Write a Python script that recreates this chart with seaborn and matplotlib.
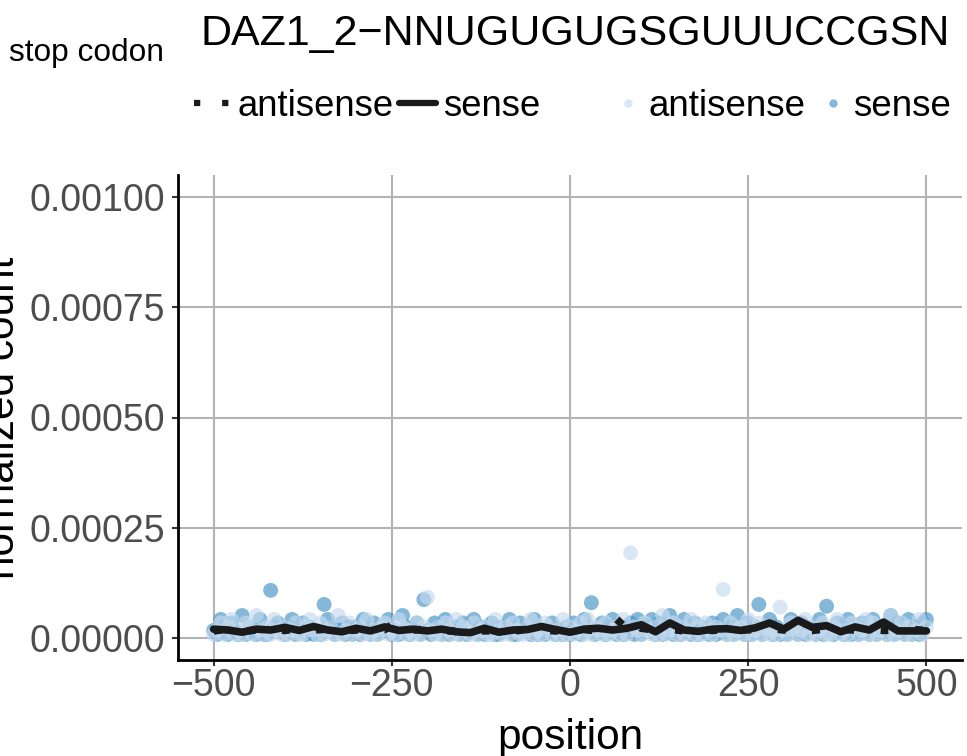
import pandas as pd
import seaborn as sns
import matplotlib.pyplot as plt
from matplotlib.lines import Line2D

# normalized counts, in units of 1e-6, every 5 nt from -500 to 500
positions = list(range(-500, 501, 5))
antisense_counts = [
    8, 17, 34, 8, 25, 42, 8, 17, 8, 34, 25, 8, 51, 17, 8, 25, 8, 42, 17, 8,
    25, 8, 17, 34, 8, 8, 25, 42, 17, 8, 34, 8, 17, 25, 8, 51, 8, 17, 34, 8,
    17, 25, 8, 42, 8, 17, 8, 25, 34, 8, 17, 8, 42, 25, 8, 17, 8, 34, 8, 25,
    92, 17, 8, 25, 8, 34, 17, 8, 42, 8, 25, 17, 8, 34, 8, 17, 25, 8, 8, 42,
    17, 8, 25, 8, 34, 17, 8, 8, 25, 42, 8, 17, 8, 34, 25, 8, 17, 8, 42, 8,
    25, 8, 17, 34, 8, 42, 8, 25, 17, 8, 34, 8, 17, 25, 8, 42, 8, 193, 25, 17,
    8, 34, 17, 8, 25, 8, 51, 8, 17, 34, 8, 25, 8, 17, 42, 8, 25, 8, 34, 17,
    8, 25, 17, 110, 8, 34, 8, 17, 25, 8, 42, 8, 17, 34, 8, 25, 8, 17, 8, 70,
    17, 8, 34, 25, 8, 17, 42, 8, 25, 8, 17, 34, 8, 8, 25, 42, 8, 17, 8, 34,
    25, 8, 17, 42, 8, 34, 8, 17, 25, 8, 51, 8, 17, 34, 8, 25, 8, 17, 42, 8,
    25]
sense_counts = [
    17, 8, 42, 25, 8, 34, 17, 8, 51, 8, 25, 17, 8, 42, 8, 8, 108, 25, 34, 17,
    8, 25, 42, 8, 17, 34, 8, 25, 8, 17, 8, 76, 42, 25, 8, 17, 34, 8, 25, 8,
    25, 8, 42, 17, 8, 34, 8, 25, 17, 42, 8, 17, 8, 51, 25, 8, 17, 34, 8, 87,
    17, 8, 34, 25, 8, 42, 8, 17, 25, 8, 34, 8, 17, 42, 8, 25, 8, 17, 34, 8,
    8, 25, 17, 42, 8, 8, 34, 17, 25, 8, 42, 8, 17, 8, 25, 34, 8, 17, 8, 25,
    8, 34, 17, 8, 42, 25, 80, 8, 17, 34, 8, 25, 42, 8, 17, 8, 25, 34, 8, 42,
    8, 17, 25, 42, 8, 34, 8, 17, 51, 8, 25, 8, 42, 17, 8, 34, 8, 25, 17, 8,
    34, 8, 17, 42, 8, 25, 8, 51, 17, 8, 34, 8, 25, 76, 8, 17, 42, 8, 25, 8,
    17, 8, 42, 25, 8, 34, 8, 17, 25, 8, 42, 8, 72, 17, 8, 34, 25, 8, 42, 8,
    25, 8, 34, 17, 8, 42, 8, 25, 17, 8, 51, 8, 34, 17, 8, 42, 8, 25, 8, 34,
    42]

# running averages, every 20 nt
line_positions = list(range(-500, 501, 20))
antisense_smooth = [16, 20, 15, 18, 20, 17, 22, 18, 20, 16, 18, 20, 19, 40, 18, 20, 17,
                    15, 18, 16, 17, 15, 20, 18, 16, 17, 19, 16, 20, 54, 22, 18, 20, 16,
                    19, 17, 20, 18, 19, 22, 18, 20, 17, 21, 19, 18, 20, 17, 18, 19, 17]
sense_smooth = [20, 18, 13, 20, 18, 24, 17, 26, 18, 14, 22, 16, 25, 17, 20, 16, 20,
                14, 12, 22, 13, 18, 19, 26, 19, 13, 20, 22, 18, 22, 30, 14, 34, 18,
                15, 20, 21, 17, 23, 34, 20, 40, 24, 28, 14, 25, 18, 36, 16, 16, 16]

strands = ['antisense', 'sense']
x_ticks = [-500, -250, 0, 250, 500]
x_ticklabels = ['\u2212500', '\u2212250', '0', '250', '500']
y_ticks = [0, 0.00025, 0.0005, 0.00075, 0.001]
y_ticklabels = ['0.00000', '0.00025', '0.00050', '0.00075', '0.00100']
point_colors = {'antisense': '#c6dbef', 'sense': '#4292c6'}

pts = pd.concat([
    pd.DataFrame({'position': positions, 'count': [v * 1e-6 for v in sense_counts], 'strand': 'sense'}),
    pd.DataFrame({'position': positions, 'count': [v * 1e-6 for v in antisense_counts], 'strand': 'antisense'}),
])
lines = pd.concat([
    pd.DataFrame({'position': line_positions, 'count': [v * 1e-6 for v in antisense_smooth], 'strand': 'antisense'}),
    pd.DataFrame({'position': line_positions, 'count': [v * 1e-6 for v in sense_smooth], 'strand': 'sense'}),
])

sns.set_style('white')
plt.rcParams['font.family'] = ['Liberation Sans', 'DejaVu Sans']
plt.rcParams['text.color'] = 'black'
plt.rcParams['axes.labelcolor'] = 'black'

fig = plt.figure(figsize=(9.67, 7.56), dpi=100)
ax = fig.add_axes([178 / 967, 96 / 756, 784 / 967, 485 / 756])

sns.scatterplot(data=pts, x='position', y='count', hue='strand', palette=point_colors,
                s=115, alpha=0.65, edgecolor='none', legend=False, ax=ax)
sns.lineplot(data=lines, x='position', y='count', style='strand', style_order=strands,
             dashes={'antisense': (1, 3.5), 'sense': ''}, color='#1a1a1a', linewidth=5.5,
             legend=False, ax=ax)

ax.set_xlim(-550, 550)
ax.set_ylim(-0.00005, 0.00105)
ax.set_xticks(x_ticks)
ax.set_xticklabels(x_ticklabels)
ax.set_yticks(y_ticks)
ax.set_yticklabels(y_ticklabels)
ax.grid(True, color='#b3b3b3', linewidth=1.5)
ax.set_axisbelow(True)
for side in ['top', 'right']:
    ax.spines[side].set_visible(False)
for side in ['left', 'bottom']:
    ax.spines[side].set_color('black')
    ax.spines[side].set_linewidth(2)
ax.tick_params(axis='both', direction='out', length=4.5, width=1.5, color='#333333',
               labelsize=27, labelcolor='#4d4d4d', left=True, bottom=True)
ax.tick_params(axis='x', pad=1)
ax.tick_params(axis='y', pad=5)
ax.set_xlabel('position', fontsize=30.5, labelpad=10)
ax.set_ylabel('normalized count', fontsize=30.5, labelpad=4.3)

fig.text(200 / 967, 1 - 45 / 756, 'DAZ1_2\u2212NNUGUGUGSGUUUCCGSN', fontsize=31, va='baseline')
fig.text(9 / 967, 1 - 61 / 756, 'stop codon', fontsize=22.8, va='baseline')

line_handles = [Line2D([], [], color='#1a1a1a', linewidth=4.5, linestyle=(0, (1, 3.5))),
                Line2D([], [], color='#1a1a1a', linewidth=4.5)]
fig.legend(line_handles, strands, loc='center left', bbox_to_anchor=(194 / 967, 1 - 106 / 756),
           ncol=2, frameon=False, fontsize=26.3, handlelength=1.0, handletextpad=0.2,
           columnspacing=0.15, borderpad=0, borderaxespad=0)
dot_handles = [Line2D([], [], linestyle='none', marker='o', markersize=6, markeredgewidth=0,
                      color=point_colors[s], alpha=0.65) for s in strands]
fig.legend(dot_handles, strands, loc='center left', bbox_to_anchor=(617 / 967, 1 - 106 / 756),
           ncol=2, frameon=False, fontsize=26.5, handlelength=0.6, handletextpad=0.25,
           columnspacing=0.45, borderpad=0, borderaxespad=0)

fig.savefig('out.png', dpi=100)
